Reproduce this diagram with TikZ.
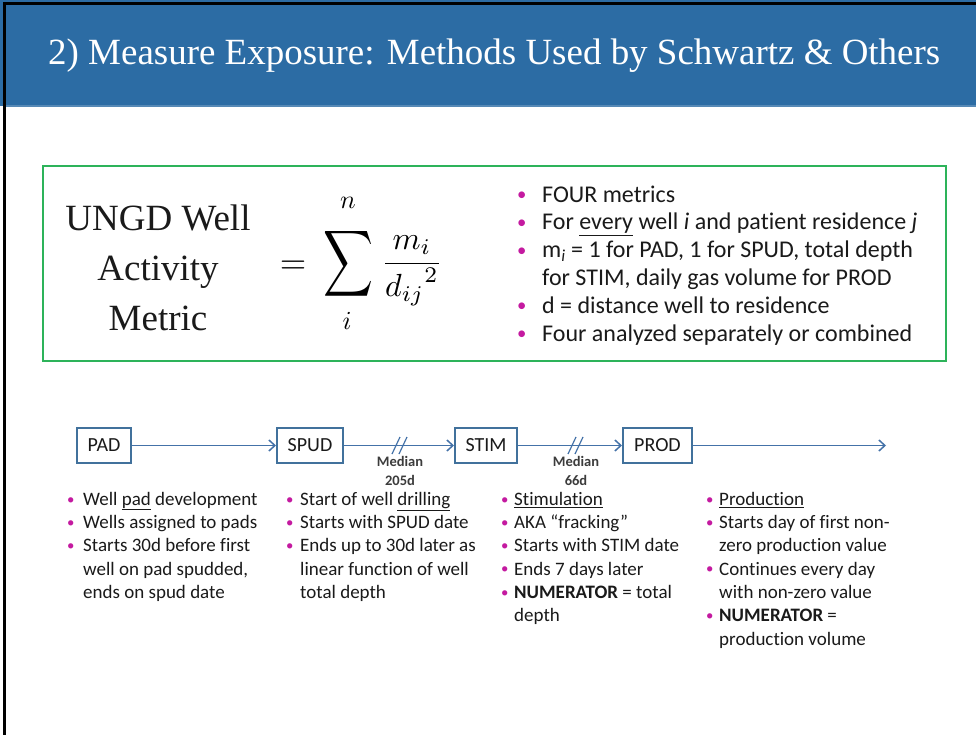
\documentclass[tikz,border=0pt]{standalone}
\usepackage{fontspec}
\setmainfont{Carlito}[Ligatures=NoCommon]
\newfontfamily\serifT{Liberation Serif}
\usetikzlibrary{arrows.meta}
\definecolor{hdr}{HTML}{2C6CA4}
\definecolor{grn}{HTML}{2DB35A}
\definecolor{boxc}{HTML}{41719C}
\definecolor{arrc}{HTML}{4472A8}
\definecolor{mag}{HTML}{C41AA0}
\definecolor{txt}{HTML}{1A1A1A}
\newcommand\bul[1]{\makebox[#1][l]{\raisebox{0.06em}{\scalebox{0.78}{\textcolor{mag}{•}}}}}
\tikzset{
  stagebox/.style={draw=boxc, line width=2pt, minimum height=35pt, inner sep=0pt, text=txt, font=\fontsize{20}{24}\selectfont},
  arr/.style={draw=arrc, line width=1.5pt, -{Straight Barb[length=6pt,width=11pt,line width=1.5pt]}},
  slash/.style={draw=arrc, line width=1.2pt},
  medlab/.style={align=center, inner sep=0pt, text=txt!85, font=\bfseries\fontsize{14.5}{18.5}\selectfont},
  blist/.style={anchor=north west, align=left, inner sep=0pt, text=txt, font=\fontsize{19}{23.3}\selectfont},
  tlist/.style={anchor=north west, align=left, inner sep=0pt, text=txt, font=\fontsize{24}{27.8}\selectfont},
}
\begin{document}
\begin{tikzpicture}[x=1pt,y=-1pt]
\useasboundingbox (0,0) rectangle (976,735);
\fill[white] (0,0) rectangle (976,735);
% header
\fill[hdr] (0,0) rectangle (976,106);
\fill[hdr!80!white] (6,105) rectangle (976,107);
\fill[black] (3,2) rectangle (976,5);
\fill[black] (3,2) rectangle (6,735);
\node[anchor=base west, inner sep=0pt, text=white] (title) at (48,65)
  {\resizebox{892pt}{!}{\serifT 2) Measure Exposure: Methods Used by Schwartz \& Others}};
% green formula box
\draw[grn, line width=2.2pt] (43,166) rectangle (946,361);
\node[align=center, anchor=north, inner sep=0pt, text=txt, font=\serifT\fontsize{37}{50}\selectfont] (lhs) at (158,195)
  {\strut UNGD Well\\Activity\\Metric};
\node[inner sep=0pt] (eq) at (293,267) {\scalebox{3.4}{$=$}};
\node[inner sep=0pt] (sig) at (349,264) {\resizebox*{50pt}{74pt}{$\displaystyle\sum$}};
\node[inner sep=0pt] (nn) at (348,203) {\scalebox{2.6}{$n$}};
\node[inner sep=0pt] (ii) at (347,321) {\scalebox{2.6}{$i$}};
\node[inner sep=0pt] (frac) at (412,271) {\scalebox{3.2}{$\displaystyle\frac{m_i}{{d_{ij}}^2}$}};
\node[tlist] (toplist) at (517,182.5) {%
\strut\bul{25pt}FOUR metrics\\
\bul{25pt}For \underline{every} well \textit{i} and patient residence \textit{j}\\
\bul{25pt}m\textsubscript{\textit{i}} = 1 for PAD, 1 for SPUD, total depth\\
\hspace*{25pt}for STIM, daily gas volume for PROD\\
\bul{25pt}d = distance well to residence\\
\bul{25pt}Four analyzed separately or combined};
% timeline
\node[stagebox, minimum width=54pt] (pad) at (104,445.5) {PAD};
\node[stagebox, minimum width=66pt] (spud) at (310,445.5) {SPUD};
\node[stagebox, minimum width=62pt] (stim) at (486,445.5) {STIM};
\node[stagebox, minimum width=69pt] (prod) at (657.5,445.5) {PROD};
\coordinate (tend) at (886,445.5);
\draw[arr] (pad) -- (spud);
\draw[arr] (spud) -- (stim);
\draw[arr] (stim) -- (prod);
\draw[arr] (prod) -- (tend);
\coordinate (s1) at (400,446);
\coordinate (s2) at (576,446);
\foreach \s in {s1,s2}{
  \draw[slash] ([shift={(-8,8)}]\s) -- ([shift={(0,-9)}]\s);
  \draw[slash] ([shift={(-1,8)}]\s) -- ([shift={(7,-9)}]\s);
}
\node[medlab] (med1) at (400,471) {Median\\205d};
\node[medlab] (med2) at (576,471) {Median\\66d};
% columns
\node[blist] (c1) at (67,488.7) {%
\strut\bul{16pt}Well \underline{pad} development\\
\bul{16pt}Wells assigned to pads\\
\bul{16pt}Starts 30d before first\\
\hspace*{16pt}well on pad spudded,\\
\hspace*{16pt}ends on spud date};
\node[blist] (c2) at (286,488.7) {%
\strut\bul{14pt}Start of well \underline{drilling}\\
\bul{14pt}Starts with SPUD date\\
\bul{14pt}Ends up to 30d later as\\
\hspace*{14pt}linear function of well\\
\hspace*{14pt}total depth};
\node[blist] (c3) at (501,488.7) {%
\strut\bul{13pt}\underline{Stimulation}\\
\bul{13pt}AKA “fracking”\\
\bul{13pt}Starts with STIM date\\
\bul{13pt}Ends 7 days later\\
\bul{13pt}\textbf{NUMERATOR} = total\\
\hspace*{13pt}depth};
\node[blist] (c4) at (706,488.7) {%
\strut\bul{13pt}\underline{Production}\\
\bul{13pt}Starts day of first non-\\
\hspace*{13pt}zero production value\\
\bul{13pt}Continues every day\\
\hspace*{13pt}with non-zero value\\
\bul{13pt}\textbf{NUMERATOR} =\\
\hspace*{13pt}production volume};
\end{tikzpicture}
\end{document}
